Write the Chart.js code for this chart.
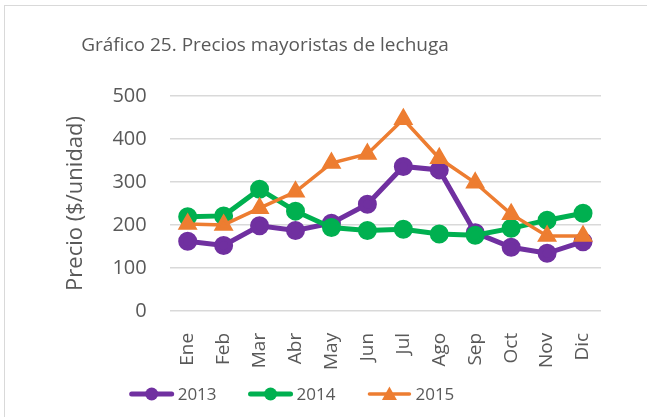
<!DOCTYPE html>
<html>
<head>
<meta charset="utf-8">
<script src="https://cdn.jsdelivr.net/npm/chart.js@4"></script>
<style>
  body { margin: 0; background: #fff; }
  #marco { position: absolute; left: 4px; top: 5px; width: 660px; height: 430px; border: 1px solid #d9d9d9; }
  #grafico { position: absolute; left: 0; top: 0; }
</style>
</head>
<body>
<div id="marco"></div>
<canvas id="grafico" width="647" height="417"></canvas>
<script>
const meses = ["Ene", "Feb", "Mar", "Abr", "May", "Jun", "Jul", "Ago", "Sep", "Oct", "Nov", "Dic"];
const precios2013 = [162, 152, 198, 187, 204, 248, 336, 328, 182, 148, 134, 161];
const precios2014 = [219, 221, 283, 232, 194, 187, 190, 179, 176, 192, 211, 227];
const precios2015 = [202, 200, 239, 277, 344, 365, 446, 355, 298, 225, 174, 174];
const ticksY = [0, 100, 200, 300, 400, 500];

const fuente = "'Open Sans', sans-serif";
const gris = "#595959";

// titulo colocado a mano (en el original no esta centrado)
const tituloPlugin = {
    id: "tituloManual",
    afterDraw(chart) {
        const ctx = chart.ctx;
        ctx.save();
        ctx.font = "19px " + fuente;
        ctx.fillStyle = gris;
        ctx.textAlign = "center";
        ctx.textBaseline = "middle";
        ctx.fillText("Gráfico 25. Precios mayoristas de lechuga", 265, 46);
        ctx.restore();
    }
};

// leyenda estilo Excel: linea con marcador y texto
const leyendaPlugin = {
    id: "leyendaManual",
    afterDraw(chart) {
        const ctx = chart.ctx;
        const lineaAncho = 44, gapTexto = 4, gapItem = 32;
        const centroX = 292, y = 394;
        ctx.save();
        ctx.font = "17px " + fuente;
        const anchos = chart.data.datasets.map(ds => lineaAncho + gapTexto + ctx.measureText(ds.label).width);
        const total = anchos.reduce((a, b) => a + b, 0) + gapItem * (anchos.length - 1);
        let x = centroX - total / 2;
        chart.data.datasets.forEach((ds, i) => {
            ctx.strokeStyle = ds.borderColor;
            ctx.fillStyle = ds.backgroundColor;
            ctx.lineWidth = ds.borderWidth;
            ctx.lineCap = "round";
            ctx.beginPath();
            ctx.moveTo(x + 2, y);
            ctx.lineTo(x + lineaAncho - 2, y);
            ctx.stroke();
            const cx = x + lineaAncho / 2;
            ctx.beginPath();
            if (ds.pointStyle === "triangle") {
                ctx.moveTo(cx, y - 7.5);
                ctx.lineTo(cx + 7.5, y + 6);
                ctx.lineTo(cx - 7.5, y + 6);
                ctx.closePath();
            } else {
                ctx.arc(cx, y, 6.5, 0, Math.PI * 2);
            }
            ctx.fill();
            ctx.fillStyle = gris;
            ctx.textAlign = "left";
            ctx.textBaseline = "middle";
            ctx.fillText(ds.label, x + lineaAncho + gapTexto, y + 1);
            x += anchos[i] + gapItem;
        });
        ctx.restore();
    }
};

const ctx = document.getElementById("grafico").getContext("2d");
new Chart(ctx, {
    type: "line",
    data: {
        labels: meses,
        datasets: [
            {
                label: "2013",
                data: precios2013,
                borderColor: "#7030A0",
                backgroundColor: "#7030A0",
                borderWidth: 5,
                pointRadius: 7,
                pointHoverRadius: 7,
                pointStyle: "circle",
                order: 3
            },
            {
                label: "2014",
                data: precios2014,
                borderColor: "#00B050",
                backgroundColor: "#00B050",
                borderWidth: 5,
                pointRadius: 7,
                pointHoverRadius: 7,
                pointStyle: "circle",
                order: 2
            },
            {
                label: "2015",
                data: precios2015,
                borderColor: "#ED7D31",
                backgroundColor: "#ED7D31",
                borderWidth: 3.5,
                pointRadius: 8,
                pointHoverRadius: 8,
                pointStyle: "triangle",
                order: 1
            }
        ]
    },
    options: {
        responsive: false,
        animation: false,
        devicePixelRatio: 1,
        layout: {
            padding: { top: 96, left: 63, right: 46, bottom: 33 }
        },
        plugins: {
            title: { display: false },
            tooltip: { enabled: false },
            legend: { display: false }
        },
        scales: {
            x: {
                offset: true,
                grid: { display: false },
                border: { display: false },
                ticks: {
                    minRotation: 90,
                    maxRotation: 90,
                    autoSkip: false,
                    color: gris,
                    padding: 14,
                    font: { family: fuente, size: 19 }
                }
            },
            y: {
                min: 0,
                max: 500,
                afterBuildTicks(axis) {
                    axis.ticks = ticksY.map(v => ({ value: v }));
                },
                grid: { color: "#d9d9d9", lineWidth: 1.5, drawTicks: false },
                border: { display: false },
                ticks: {
                    color: gris,
                    padding: 23,
                    font: { family: fuente, size: 20 }
                },
                title: {
                    display: true,
                    text: "Precio ($/unidad)",
                    color: gris,
                    padding: { top: 0, bottom: 0 },
                    font: { family: fuente, size: 22 }
                }
            }
        }
    },
    plugins: [tituloPlugin, leyendaPlugin]
});
</script>
</body>
</html>
